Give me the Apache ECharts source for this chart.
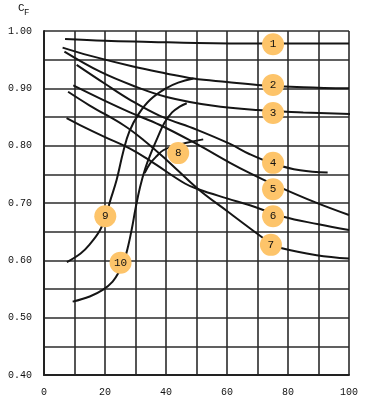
<!DOCTYPE html>
<html><head><meta charset="utf-8">
<script src="https://cdn.jsdelivr.net/npm/echarts@6/dist/echarts.min.js"></script>
<style>html,body{margin:0;padding:0;background:#fff}#c{width:365px;height:399px}</style>
</head><body><div id="c"></div>
<script>
// Curve data (x = %, y = CF)
const c1X=[6.9,20,35,50,70,100], c1Y=[0.986,0.983,0.981,0.979,0.978,0.978];
const c2X=[6.1,15,29.2,40,49,60,70,85,100], c2Y=[0.971,0.957,0.938,0.926,0.917,0.911,0.906,0.902,0.900];
const c3X=[6.7,18.4,30,40.2,55,70,85,101], c3Y=[0.964,0.929,0.903,0.885,0.870,0.862,0.858,0.855];
const c4X=[10.7,20,28.2,38,50,61,67.5,75,84,93], c4Y=[0.941,0.908,0.880,0.852,0.828,0.803,0.785,0.769,0.757,0.753];
const c5X=[9.6,20,28.2,38,50,61,67.5,75,89,100], c5Y=[0.905,0.878,0.858,0.836,0.803,0.770,0.752,0.733,0.701,0.679];
const c6X=[7.4,11.8,20,28.2,35,46.2,50.6,60,67.5,78.5,90,100], c6Y=[0.848,0.836,0.815,0.795,0.773,0.734,0.724,0.708,0.696,0.676,0.663,0.653];
const c7X=[7.9,15,26,32.6,40,50.6,60,67.5,74.3,78,89.4,100], c7Y=[0.894,0.870,0.836,0.810,0.776,0.724,0.686,0.656,0.630,0.621,0.609,0.603];
const c8X=[33,34.8,37,39.1,43,46.8,52.2], c8Y=[0.752,0.769,0.782,0.792,0.800,0.805,0.811];
const c9X=[7.5,12,15,18.4,20.5,21.6,23.8,26,28,31,34.8,40,44,49], c9Y=[0.597,0.612,0.628,0.653,0.680,0.702,0.740,0.790,0.825,0.855,0.880,0.900,0.910,0.917];
const c10X=[9.4,15,19.4,22.5,24.6,26.3,27.6,28.8,30,31.5,33.3,35.3,37.3,39.5,42,44.5,46.8], c10Y=[0.528,0.537,0.549,0.563,0.580,0.600,0.625,0.655,0.690,0.728,0.762,0.790,0.815,0.840,0.858,0.868,0.874];
// Curve number labels
const labelText=['1','2','3','4','5','6','7','8','9','10'];
const labelX=[75.1,75.1,75.1,75.1,75.1,75.1,74.4,44.0,20.1,25.1];
const labelY=[0.977,0.906,0.857,0.770,0.724,0.677,0.627,0.787,0.677,0.596];
// Axis
const xMin=0,xMax=100,xStep=10;
const yMin=0.40,yMax=1.00,yStep=0.05;

const curves=[[c1X,c1Y],[c2X,c2Y],[c3X,c3Y],[c4X,c4Y],[c5X,c5Y],[c6X,c6Y],[c7X,c7Y],[c8X,c8Y],[c9X,c9Y],[c10X,c10Y]];
const series=curves.map(([xs,ys])=>({
  type:'line',smooth:0.4,symbol:'none',z:3,
  lineStyle:{color:'#151515',width:2},
  data:xs.map((x,i)=>[x,ys[i]])
}));
series.push({
  type:'scatter',z:10,symbolSize:22,
  itemStyle:{color:'#FDC46A',opacity:1},
  label:{show:true,position:'inside',color:'#111',fontFamily:'Liberation Mono',fontSize:11,formatter:p=>p.data[2]},
  data:labelX.map((x,i)=>[x,labelY[i],labelText[i]])
});
const chart=echarts.init(document.getElementById('c'));
chart.setOption({
  animation:false,
  grid:{left:44,right:16,top:31,bottom:24},
  xAxis:{type:'value',min:xMin,max:xMax,interval:xStep,
    axisLine:{show:true,lineStyle:{color:'#222',width:2}},axisTick:{show:false},
    axisLabel:{color:'#111',fontFamily:'Liberation Mono',fontSize:10,margin:12,formatter:v=>(v%20===0?String(v):'')},
    splitLine:{show:true,lineStyle:{color:'#2b2b2b',width:1.6}}},
  yAxis:{type:'value',min:yMin,max:yMax,interval:yStep,
    axisLine:{show:true,lineStyle:{color:'#222',width:2}},axisTick:{show:false},
    axisLabel:{color:'#111',fontFamily:'Liberation Mono',fontSize:10,margin:12,
      formatter:v=>{const r=Math.round(v*100);return r%10===0?(r/100).toFixed(2):'';}},
    splitLine:{show:true,lineStyle:{color:'#2b2b2b',width:1.6}}},
  graphic:[
    {type:'text',left:18,top:3,style:{text:'C',font:'11px Liberation Mono',fill:'#111'}},
    {type:'text',left:24,top:8,style:{text:'F',font:'9px Liberation Mono',fill:'#111'}}
  ],
  series:series
});
</script></body></html>
